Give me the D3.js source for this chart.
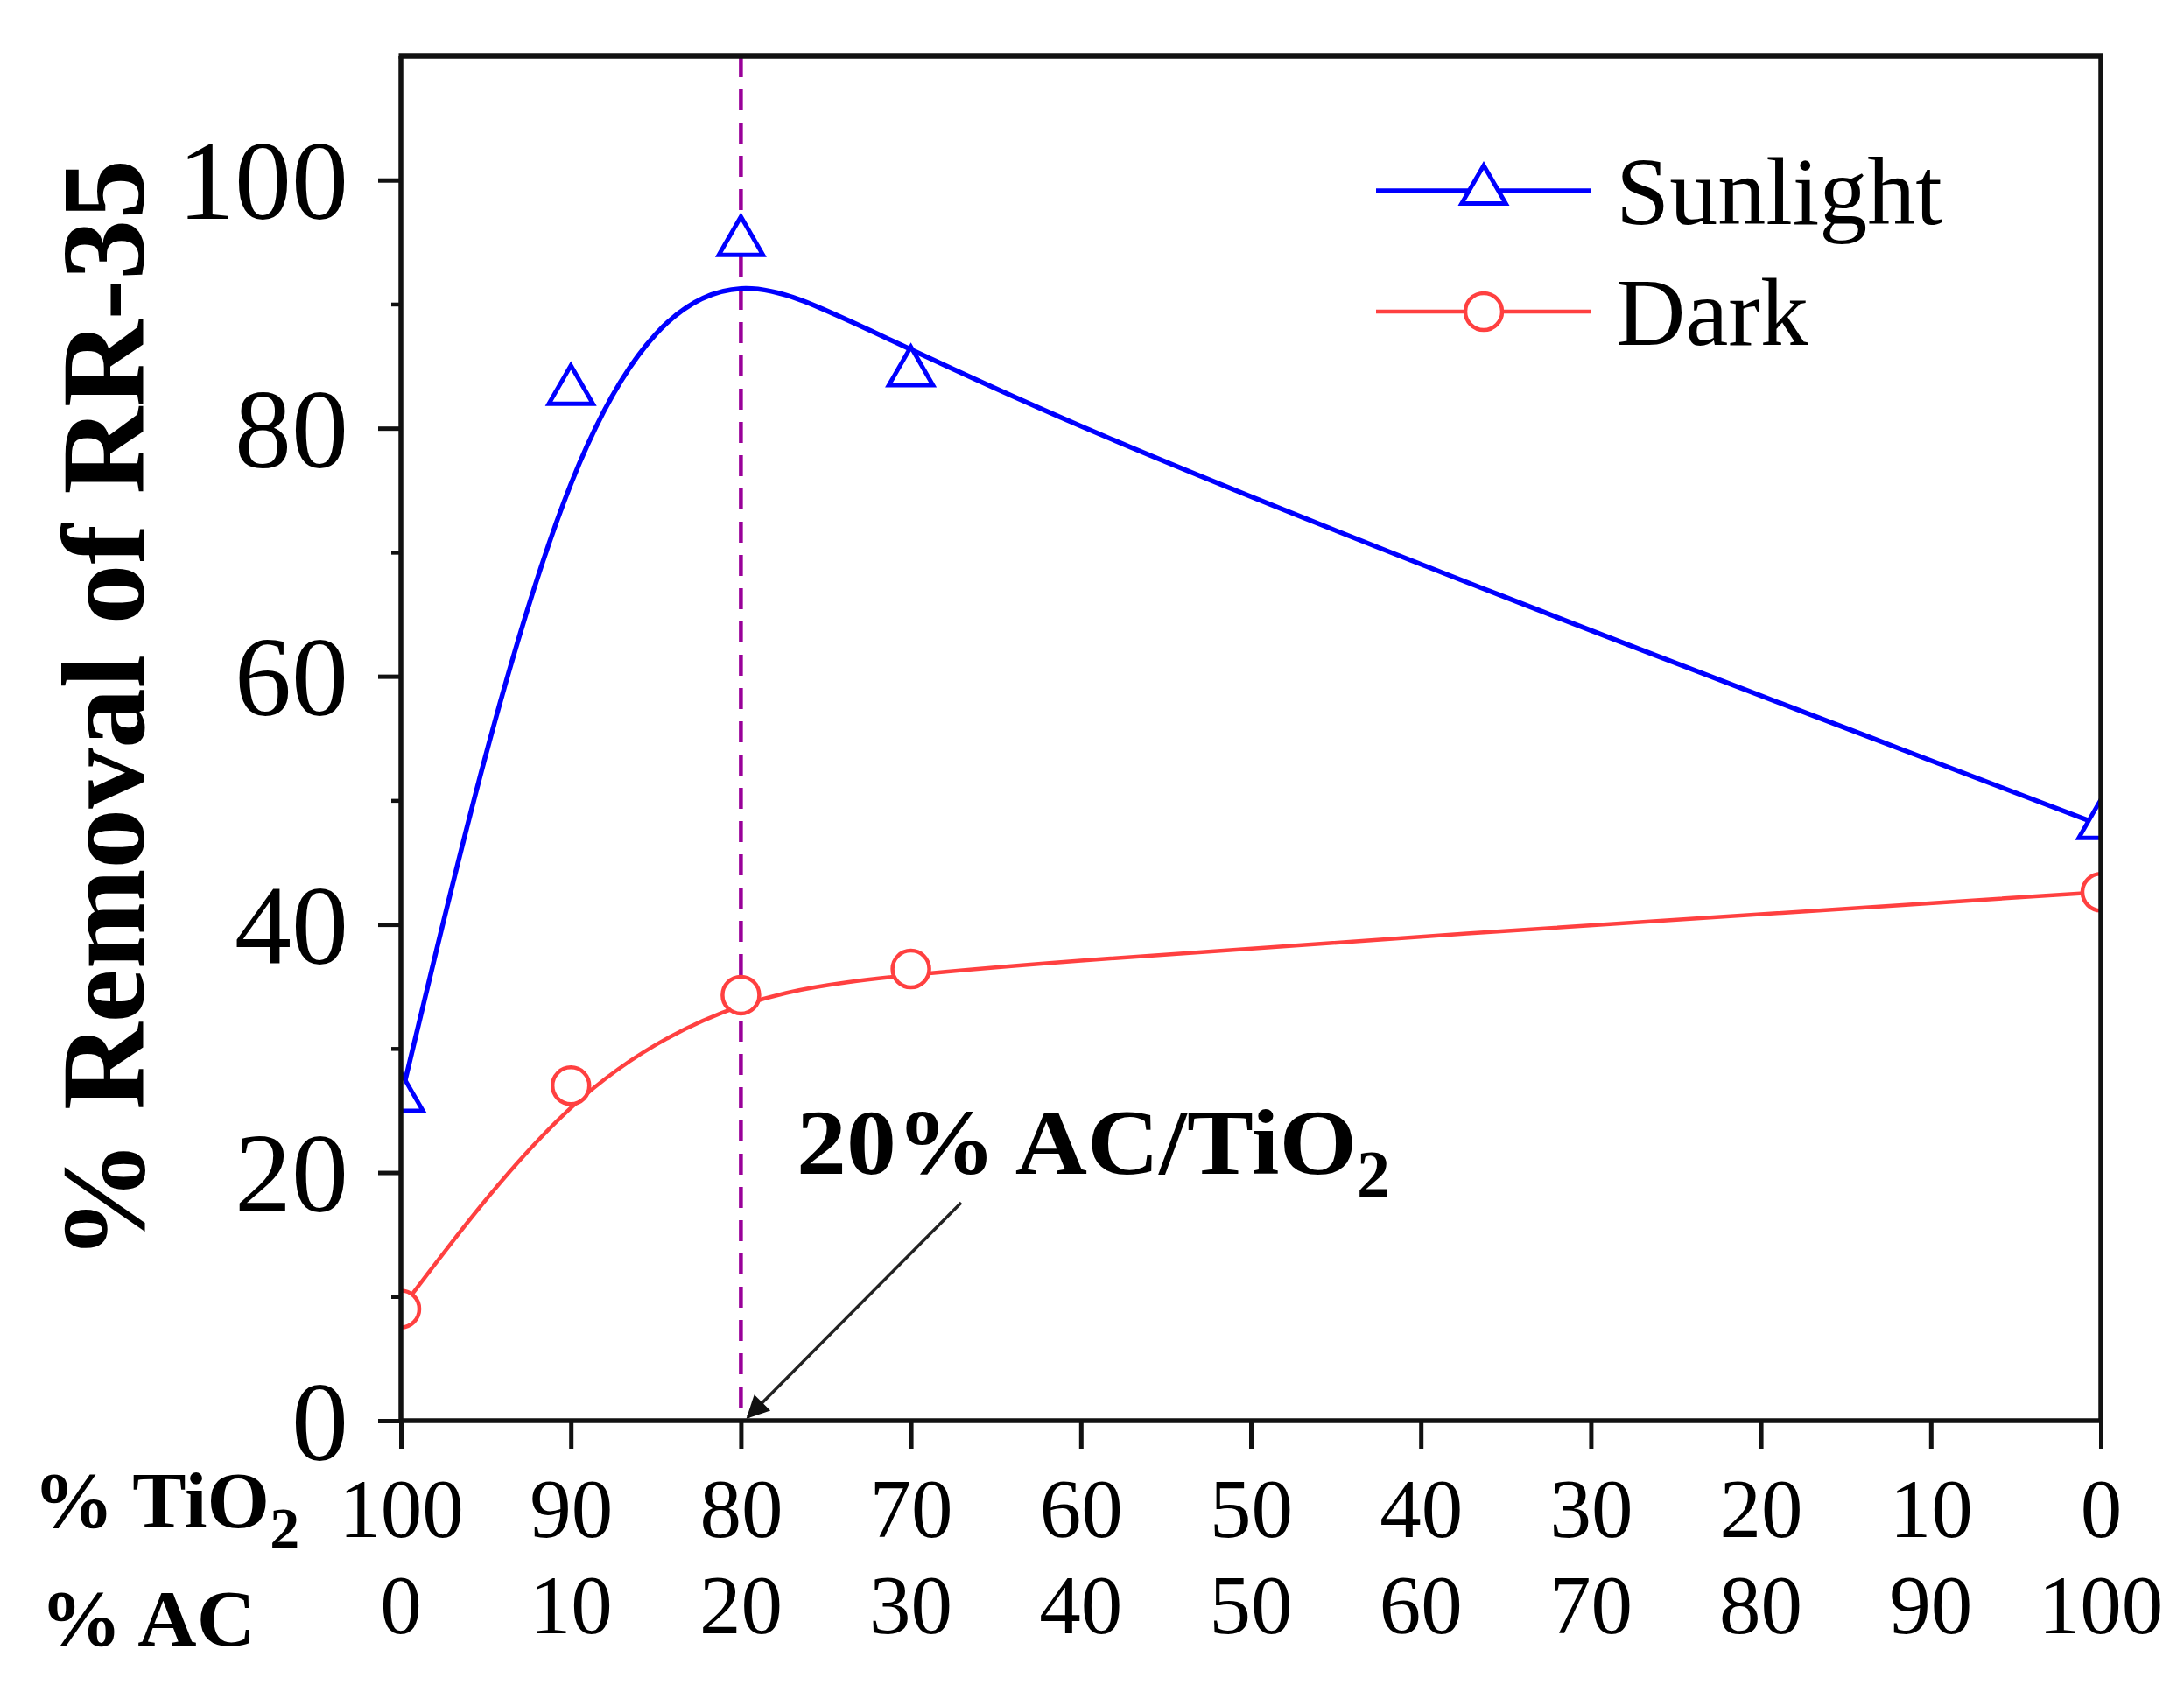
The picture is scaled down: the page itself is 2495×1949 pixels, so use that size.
<!DOCTYPE html>
<html>
<head>
<meta charset="utf-8">
<script src="https://cdn.jsdelivr.net/npm/d3@7"></script>
<style>
  html, body { margin: 0; padding: 0; background: #fff; }
  svg { display: block; }
  text { font-family: "Liberation Serif", "Times New Roman", serif; fill: #000; }
</style>
</head>
<body>
<script>
// ---------------- data ----------------
const tio2Percent = [100, 90, 80, 70, 0];
const sunlightRemoval = [26, 83, 95, 84.5, 48];
const darkRemoval = [9, 27, 34.3, 36.4, 42.6];
const xTickValues = [100, 90, 80, 70, 60, 50, 40, 30, 20, 10, 0];
const acTickLabels = ["0", "10", "20", "30", "40", "50", "60", "70", "80", "90", "100"];
const yTickValues = [0, 20, 40, 60, 80, 100];
const yMinorValues = [10, 30, 50, 70, 90];
const seriesNames = ["Sunlight", "Dark"];
const optimumTiO2 = 80;

// ---------------- layout ----------------
const W = 2495, H = 1949;
const pL = 458, pR = 2400, pT = 64, pB = 1623;

const svg = d3.select("body").append("svg").attr("width", W).attr("height", H);

const x = d3.scaleLinear().domain([100, 0]).range([pL, pR]);
const y = d3.scaleLinear().domain([0, 110]).range([pB, pT]);

const blue = "#0000ff", red = "#ff4040", purple = "#990099";

const defs = svg.append("defs");
defs.append("clipPath").attr("id", "plotclip")
  .append("rect").attr("x", pL).attr("y", pT).attr("width", pR - pL).attr("height", pB - pT);

// dashed vertical line at 20% AC
svg.append("line")
  .attr("x1", x(optimumTiO2)).attr("x2", x(optimumTiO2))
  .attr("y1", y(110)).attr("y2", y(0))
  .attr("stroke", purple).attr("stroke-width", 4.5).attr("stroke-dasharray", "24,14");

// curves (B-spline like Origin)
const plot = svg.append("g").attr("clip-path", "url(#plotclip)");
const lineGen = vals => d3.line().curve(d3.curveBasis)
  .x((d, i) => x(tio2Percent[i])).y(d => y(d))(vals);

plot.append("path").attr("d", lineGen(sunlightRemoval))
  .attr("fill", "none").attr("stroke", blue).attr("stroke-width", 5.5);
plot.append("path").attr("d", lineGen(darkRemoval))
  .attr("fill", "none").attr("stroke", red).attr("stroke-width", 4.5);

const tri = d3.symbol().type(d3.symbolTriangle).size(1100);
plot.selectAll(".tri").data(sunlightRemoval).enter().append("path")
  .attr("d", tri)
  .attr("transform", (d, i) => `translate(${x(tio2Percent[i])},${y(d)})`)
  .attr("fill", "#fff").attr("stroke", blue).attr("stroke-width", 5);
plot.selectAll(".circ").data(darkRemoval).enter().append("circle")
  .attr("cx", (d, i) => x(tio2Percent[i])).attr("cy", d => y(d)).attr("r", 21)
  .attr("fill", "#fff").attr("stroke", red).attr("stroke-width", 4.5);

// ---------------- axes ----------------
const axisW = 5.5;
svg.append("line").attr("x1", pL - 2.5).attr("x2", pR + 2.5).attr("y1", pT).attr("y2", pT)
  .attr("stroke", "#111").attr("stroke-width", axisW);
svg.append("line").attr("x1", pR).attr("x2", pR).attr("y1", pT).attr("y2", pB)
  .attr("stroke", "#111").attr("stroke-width", axisW);

// y axis
const yAxis = svg.append("g").attr("transform", `translate(${pL},0)`)
  .call(d3.axisLeft(y).tickValues(yTickValues).tickSize(26).tickPadding(34).tickFormat(d3.format("d")));
yAxis.select(".domain").attr("stroke", "#111").attr("stroke-width", axisW)
  .attr("d", `M0,${pT}V${pB}`);
yAxis.selectAll(".tick line").attr("stroke", "#111").attr("stroke-width", 5);
yAxis.selectAll(".tick text").attr("font-size", 130).attr("font-family", "Liberation Serif")
  .attr("dy", "0.34em");
svg.append("g").attr("transform", `translate(${pL},0)`)
  .call(d3.axisLeft(y).tickValues(yMinorValues).tickSize(11).tickFormat(""))
  .call(g => g.select(".domain").remove())
  .selectAll(".tick line").attr("stroke", "#111").attr("stroke-width", 4.5);

// x axis
const xAxis = svg.append("g").attr("transform", `translate(0,${pB})`)
  .call(d3.axisBottom(x).tickValues(xTickValues).tickSize(32).tickPadding(34).tickFormat(d3.format("d")));
xAxis.select(".domain").attr("stroke", "#111").attr("stroke-width", axisW)
  .attr("d", `M${pL},0H${pR}`);
xAxis.selectAll(".tick line").attr("stroke", "#111").attr("stroke-width", 5);
xAxis.selectAll(".tick text").attr("font-size", 95).attr("font-family", "Liberation Serif")
  .attr("dy", "0.71em");

// second row of x labels (% AC)
svg.append("g").selectAll("text").data(xTickValues).enter().append("text")
  .attr("x", d => x(d)).attr("y", 1866)
  .attr("text-anchor", "middle").attr("font-size", 95)
  .text((d, i) => acTickLabels[i]);

// row titles
const rt1 = svg.append("text").attr("x", 38).attr("y", 1745).attr("font-size", 92).attr("font-weight", "bold");
rt1.append("tspan").text("% TiO");
rt1.append("tspan").attr("font-size", 68).attr("dy", 24).text("2");
svg.append("text").attr("x", 46).attr("y", 1880).attr("font-size", 92).attr("font-weight", "bold")
  .attr("textLength", 246).attr("lengthAdjust", "spacingAndGlyphs")
  .text("% AC");

// y-axis title
svg.append("text")
  .attr("transform", `translate(164,${(182 + 1440) / 2}) rotate(-90)`)
  .attr("text-anchor", "middle").attr("font-size", 136).attr("font-weight", "bold")
  .attr("textLength", 1258).attr("lengthAdjust", "spacingAndGlyphs")
  .text("% Removal of RR-35");

// ---------------- annotation ----------------
const ann = svg.append("text").attr("x", 910).attr("y", 1341).attr("font-size", 106).attr("font-weight", "bold");
ann.append("tspan").attr("textLength", 640).attr("lengthAdjust", "spacingAndGlyphs").text("20% AC/TiO");
ann.append("tspan").attr("font-size", 76).attr("dy", 26).text("2");

defs.append("marker").attr("id", "arrowhead")
  .attr("viewBox", "0 0 10 10").attr("refX", 9).attr("refY", 5)
  .attr("markerWidth", 38).attr("markerHeight", 26).attr("markerUnits", "userSpaceOnUse")
  .attr("orient", "auto")
  .append("path").attr("d", "M0,0L10,5L0,10Z").attr("fill", "#111");
svg.append("line")
  .attr("x1", 1098).attr("y1", 1374).attr("x2", x(optimumTiO2) + 8).attr("y2", pB - 4)
  .attr("stroke", "#222").attr("stroke-width", 3.5).attr("marker-end", "url(#arrowhead)");

// ---------------- legend ----------------
const legend = svg.append("g");
const legendRows = [
  { name: seriesNames[0], color: blue, ly: 218, sym: "tri", w: 5.5 },
  { name: seriesNames[1], color: red, ly: 356, sym: "circ", w: 4.5 }
];
legendRows.forEach(r => {
  legend.append("line").attr("x1", 1572).attr("x2", 1818).attr("y1", r.ly).attr("y2", r.ly)
    .attr("stroke", r.color).attr("stroke-width", r.w);
  if (r.sym === "tri") {
    legend.append("path").attr("d", tri).attr("transform", `translate(1695,${r.ly})`)
      .attr("fill", "#fff").attr("stroke", r.color).attr("stroke-width", 5);
  } else {
    legend.append("circle").attr("cx", 1695).attr("cy", r.ly).attr("r", 21)
      .attr("fill", "#fff").attr("stroke", r.color).attr("stroke-width", 4.5);
  }
  legend.append("text").attr("x", 1846).attr("y", r.ly + 38).attr("font-size", 110).text(r.name);
});
</script>
</body>
</html>
